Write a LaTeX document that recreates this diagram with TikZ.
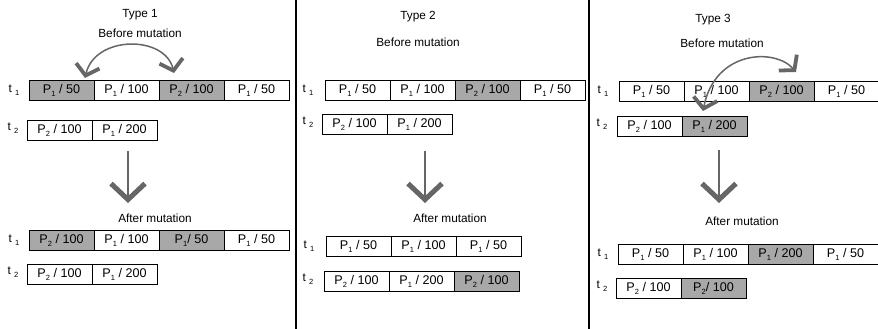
\documentclass[tikz,border=0pt]{standalone}
\usepackage{fontspec}
\setmainfont{Liberation Sans}
\usetikzlibrary{arrows.meta,positioning}
\definecolor{CellGray}{RGB}{168,168,168}
\definecolor{ArrowGray}{RGB}{102,102,102}
\newcommand{\lowidx}[1]{\raisebox{-0.45ex}{\fontsize{7.5}{8}\selectfont #1}}
\newcommand{\pv}[2]{P\lowidx{#1} / #2}

\begin{document}
\begin{tikzpicture}[x=1pt,y=-1pt,
  every node/.style={font=\fontsize{11.8}{14}\selectfont},
  cell/.style={draw,minimum width=65pt,minimum height=20pt,inner sep=0pt,outer sep=0pt,font=\fontsize{12.6}{14}\selectfont},
  hit/.style={cell,fill=CellGray},
  swap/.style={ArrowGray,line width=1.5pt,{Straight Barb[length=10pt,width=24pt,line width=3.8pt]}-{Straight Barb[length=10pt,width=24pt,line width=3.8pt]}},
  godown/.style={ArrowGray,line width=2pt,-{Straight Barb[length=16pt,width=34pt,line width=5pt]}}]
\useasboundingbox (0,0) rectangle (878,329);
\clip (0,0) rectangle (878,329);
\fill[white] (0,0) rectangle (878,329);
\draw[line width=2.5pt] (296,0) -- (296,329);
\draw[line width=2.5pt] (589,0) -- (589,329);

% Type 1
\node (h1) at (140,15) {Type 1};
\node (bm1) at (140,33) {Before mutation};
\node (ta1) at (14,90) {t \lowidx{1}};
\node[hit,anchor=west] (a1) at (29,90) {\pv{1}{50}};
\node[cell,right=0pt of a1] (a2) {\pv{1}{100}};
\node[hit,right=0pt of a2] (a3) {\pv{2}{100}};
\node[cell,right=0pt of a3] (a4) {\pv{1}{50}};
\node (tb1) at (13,128) {t \lowidx{2}};
\node[cell,anchor=west] (b1) at (27,130) {\pv{2}{100}};
\node[cell,right=0pt of b1] (b2) {P\lowidx{1} / 200};
\draw[swap] ([xshift=15pt,yshift=7pt]a3.north west) .. controls (165,35) and (95,35) .. ([xshift=-9pt,yshift=2pt]a1.north east);
\coordinate (u1) at (128,151);
\coordinate (v1) at (128,203);
\draw[godown] (u1) -- (v1);
\node (am1) at (155,218) {After mutation};
\node (tc1) at (14,240) {t \lowidx{1}};
\node[hit,anchor=west] (c1) at (29,240) {\pv{2}{100}};
\node[cell,right=0pt of c1] (c2) {\pv{1}{100}};
\node[hit,right=0pt of c2] (c3) {P\lowidx{1}/ 50};
\node[cell,right=0pt of c3] (c4) {\pv{1}{50}};
\node (td1) at (13,272) {t \lowidx{2}};
\node[cell,anchor=west] (d1) at (27,274) {\pv{2}{100}};
\node[cell,right=0pt of d1] (d2) {P\lowidx{1} / 200};

% Type 2
\node (h2) at (418,17) {Type 2};
\node (bm2) at (418,42) {Before mutation};
\node (ta2) at (308,90) {t \lowidx{1}};
\node[cell,anchor=west] (e1) at (325,90) {\pv{1}{50}};
\node[cell,right=0pt of e1] (e2) {\pv{1}{100}};
\node[hit,right=0pt of e2] (e3) {\pv{2}{100}};
\node[cell,right=0pt of e3] (e4) {\pv{1}{50}};
\node (tb2) at (308,122) {t \lowidx{2}};
\node[cell,anchor=west] (f1) at (322,124) {\pv{2}{100}};
\node[cell,right=0pt of f1] (f2) {P\lowidx{1} / 200};
\coordinate (u2) at (425,151);
\coordinate (v2) at (425,203);
\draw[godown] (u2) -- (v2);
\node (am2) at (450,218) {After mutation};
\node (tc2) at (309,246) {t \lowidx{1}};
\node[cell,anchor=west] (g1) at (326,246) {\pv{1}{50}};
\node[cell,right=0pt of g1] (g2) {\pv{1}{100}};
\node[cell,right=0pt of g2] (g3) {\pv{1}{50}};
\node (td2) at (308,279) {t \lowidx{2}};
\node[cell,anchor=west] (h1) at (324,281) {\pv{2}{100}};
\node[cell,right=0pt of h1] (h2) {P\lowidx{1} / 200};
\node[hit,right=0pt of h2] (h3) {\pv{2}{100}};

% Type 3
\node (h3) at (713,20) {Type 3};
\node (bm3) at (722,43) {Before mutation};
\node (ta3) at (603,91) {t \lowidx{1}};
\node[cell,anchor=west] (i1) at (619,91) {\pv{1}{50}};
\node[cell,right=0pt of i1] (i2) {\pv{1}{100}};
\node[hit,right=0pt of i2] (i3) {\pv{2}{100}};
\node[cell,right=0pt of i3] (i4) {\pv{1}{50}};
\node (tb3) at (602,124) {t \lowidx{2}};
\node[cell,anchor=west] (j1) at (617,126) {\pv{2}{100}};
\node[hit,right=0pt of j1] (j2) {P\lowidx{1} / 200};
\draw[swap] ([xshift=47pt,yshift=9pt]i3.north west) .. controls (775,48) and (715,50) .. ([xshift=21pt,yshift=5pt]j2.north west);
\coordinate (u3) at (719,150);
\coordinate (v3) at (719,203);
\draw[godown] (u3) -- (v3);
\node (am3) at (742,221) {After mutation};
\node (tc3) at (603,254) {t \lowidx{1}};
\node[cell,anchor=west] (k1) at (618,254) {\pv{1}{50}};
\node[cell,right=0pt of k1] (k2) {\pv{1}{100}};
\node[hit,right=0pt of k2] (k3) {\pv{1}{200}};
\node[cell,right=0pt of k3] (k4) {\pv{1}{50}};
\node (td3) at (602,286) {t \lowidx{2}};
\node[cell,anchor=west] (l1) at (616,288) {\pv{2}{100}};
\node[hit,right=0pt of l1] (l2) {P\lowidx{2}/ 100};
\end{tikzpicture}
\end{document}
